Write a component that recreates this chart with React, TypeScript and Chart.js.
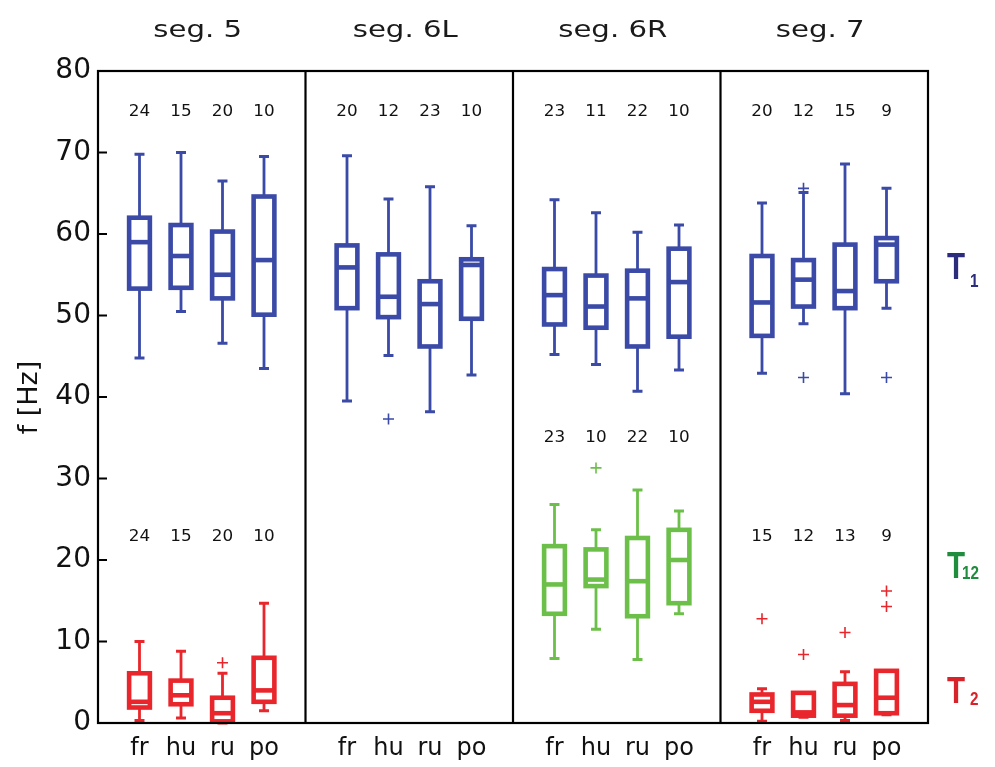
import { useEffect, useRef } from 'react';
import { Chart, registerables } from 'chart.js';

Chart.register(...registerables);

const categories = ['fr', 'hu', 'ru', 'po'];
const segments = ['seg. 5', 'seg. 6L', 'seg. 6R', 'seg. 7'];

// each box: [lower whisker, Q1, median, Q3, upper whisker]
const t1Seg5 = [
  [44.8, 53.3, 59.0, 62.0, 69.8],
  [50.5, 53.4, 57.3, 61.1, 70.0],
  [46.6, 52.1, 55.0, 60.3, 66.5],
  [43.5, 50.1, 56.8, 64.6, 69.5],
];
const t1Seg6L = [
  [39.5, 50.9, 55.9, 58.6, 69.6],
  [45.1, 49.8, 52.3, 57.5, 64.3],
  [38.2, 46.2, 51.4, 54.2, 65.8],
  [42.7, 49.6, 56.2, 56.9, 61.0],
];
const t1Seg6R = [
  [45.2, 48.9, 52.5, 55.7, 64.2],
  [44.0, 48.5, 51.1, 54.9, 62.6],
  [40.7, 46.2, 52.1, 55.5, 60.2],
  [43.3, 47.4, 54.1, 58.2, 61.1],
];
const t1Seg7 = [
  [42.9, 47.5, 51.6, 57.3, 63.8],
  [49.0, 51.1, 54.4, 56.8, 65.1],
  [40.4, 50.9, 53.0, 58.7, 68.6],
  [50.9, 54.2, 58.7, 59.5, 65.6],
];
const t12Seg6R = [
  [7.9, 13.4, 17.0, 21.7, 26.8],
  [11.5, 16.8, 17.6, 21.3, 23.7],
  [7.8, 13.1, 17.4, 22.7, 28.6],
  [13.4, 14.7, 20.0, 23.7, 26.0],
];
const t2Seg5 = [
  [0.3, 1.9, 2.6, 6.1, 10.0],
  [0.6, 2.3, 3.4, 5.2, 8.8],
  [0.0, 0.2, 1.2, 3.1, 6.1],
  [1.5, 2.6, 4.0, 8.0, 14.7],
];
const t2Seg7 = [
  [0.2, 1.5, 2.6, 3.5, 4.2],
  [0.7, 0.9, 1.3, 3.7, 3.7],
  [0.3, 0.9, 2.2, 4.8, 6.3],
  [1.0, 1.2, 3.1, 6.4, 6.4],
];

const t1Counts = [[24, 15, 20, 10], [20, 12, 23, 10], [23, 11, 22, 10], [20, 12, 15, 9]];
const t12Counts = [null, null, [23, 10, 22, 10], null];
const t2Counts = [[24, 15, 20, 10], null, null, [15, 12, 13, 9]];

// outliers: [segment index, category index, value]
const t1Outliers = [[1, 1, 37.3], [3, 1, 65.6], [3, 1, 42.4], [3, 3, 42.4]];
const t12Outliers = [[2, 1, 31.3]];
const t2Outliers = [[0, 2, 7.4], [3, 0, 12.8], [3, 1, 8.4], [3, 2, 11.1], [3, 3, 16.2], [3, 3, 14.3]];

const yTicks = [0, 10, 20, 30, 40, 50, 60, 70, 80];

const BLUE = '#3a4aa6';
const GREEN = '#6cc04a';
const RED = '#e8262b';

const groups = [
  { boxes: [t1Seg5, t1Seg6L, t1Seg6R, t1Seg7], counts: t1Counts, color: BLUE, countAt: 75.0 },
  { boxes: [null, null, t12Seg6R, null], counts: t12Counts, color: GREEN, countAt: 34.9 },
  { boxes: [t2Seg5, null, null, t2Seg7], counts: t2Counts, color: RED, countAt: 22.8 },
];

const xPos = (seg: number, cat: number) => seg * 5 + cat + 1;
const catPositions: number[] = [];
segments.forEach((_, s) => categories.forEach((_, c) => catPositions.push(xPos(s, c))));

const toPoints = (list: number[][]) => list.map(([s, c, v]) => ({ x: xPos(s, c), y: v }));

function stretchText(ctx: any, text: string, x: number, y: number, font: string, sx: number, align: string, baseline: string, color: string) {
  ctx.save();
  ctx.translate(x, y);
  ctx.scale(sx, 1);
  ctx.font = font;
  ctx.textAlign = align;
  ctx.textBaseline = baseline;
  ctx.fillStyle = color;
  ctx.fillText(text, 0, 0);
  ctx.restore();
}

const boxPlugin = {
  id: 'boxPlugin',
  beforeDatasetsDraw(chart: any) {
    const { ctx, scales } = chart;
    const xs = scales.x;
    const ys = scales.y;
    const unit = xs.getPixelForValue(1) - xs.getPixelForValue(0);
    const half = unit * 0.25;
    const cap = unit * 0.12;
    groups.forEach((g) => {
      g.boxes.forEach((segBoxes: any, s: number) => {
        if (!segBoxes) return;
        segBoxes.forEach((b: number[], c: number) => {
          const [lo, q1, med, q3, hi] = b;
          const cx = xs.getPixelForValue(xPos(s, c));
          const pLo = ys.getPixelForValue(lo);
          const pQ1 = ys.getPixelForValue(q1);
          const pMed = ys.getPixelForValue(med);
          const pQ3 = ys.getPixelForValue(q3);
          const pHi = ys.getPixelForValue(hi);
          ctx.save();
          ctx.strokeStyle = g.color;
          ctx.lineCap = 'butt';
          // whiskers
          ctx.lineWidth = 2.8;
          ctx.beginPath();
          ctx.moveTo(cx, pQ3);
          ctx.lineTo(cx, pHi);
          ctx.moveTo(cx, pQ1);
          ctx.lineTo(cx, pLo);
          ctx.stroke();
          ctx.lineWidth = 3;
          ctx.beginPath();
          ctx.moveTo(cx - cap, pHi);
          ctx.lineTo(cx + cap, pHi);
          ctx.moveTo(cx - cap, pLo);
          ctx.lineTo(cx + cap, pLo);
          ctx.stroke();
          // box
          ctx.fillStyle = '#ffffff';
          ctx.fillRect(cx - half, pQ3, half * 2, pQ1 - pQ3);
          ctx.lineWidth = 4.6;
          ctx.lineJoin = 'miter';
          ctx.strokeRect(cx - half, pQ3, half * 2, pQ1 - pQ3);
          ctx.beginPath();
          ctx.moveTo(cx - half, pMed);
          ctx.lineTo(cx + half, pMed);
          ctx.stroke();
          ctx.restore();
        });
      });
    });
  },
  afterDatasetsDraw(chart: any) {
    const { ctx, scales, chartArea } = chart;
    const xs = scales.x;
    const ys = scales.y;
    ctx.save();
    // frame and panel dividers
    ctx.strokeStyle = '#000';
    ctx.lineWidth = 2.2;
    ctx.strokeRect(chartArea.left, chartArea.top, chartArea.right - chartArea.left, chartArea.bottom - chartArea.top);
    ctx.beginPath();
    [5, 10, 15].forEach((v) => {
      const px = xs.getPixelForValue(v);
      ctx.moveTo(px, chartArea.top);
      ctx.lineTo(px, chartArea.bottom);
    });
    // inward ticks on left axis
    yTicks.forEach((v) => {
      const py = ys.getPixelForValue(v);
      ctx.moveTo(chartArea.left, py);
      ctx.lineTo(chartArea.left + 9, py);
    });
    ctx.stroke();

    // counts
    groups.forEach((g) => {
      g.counts.forEach((row: any, s: number) => {
        if (!row) return;
        row.forEach((n: number, c: number) => {
          stretchText(ctx, String(n), xs.getPixelForValue(xPos(s, c)), ys.getPixelForValue(g.countAt), '15px "DejaVu Sans"', 1.12, 'center', 'middle', '#111');
        });
      });
    });

    // segment titles
    segments.forEach((name, s) => {
      const px = xs.getPixelForValue(s * 5 + 2.5) - 4;
      stretchText(ctx, name, px, 37, '23px "DejaVu Sans"', 1.27, 'center', 'alphabetic', '#1a1a1a');
    });

    // y title
    ctx.save();
    ctx.translate(37, 397.5);
    ctx.rotate(-Math.PI / 2);
    ctx.font = '27px "DejaVu Sans"';
    ctx.textAlign = 'center';
    ctx.textBaseline = 'alphabetic';
    ctx.fillStyle = '#111';
    ctx.fillText('f [Hz]', 0, 0);
    ctx.restore();

    // right-side labels
    const tFont = 'bold 36px "Liberation Sans"';
    const subFont = 'bold 18px "Liberation Sans"';
    stretchText(ctx, 'T', 947, 279, tFont, 0.82, 'left', 'alphabetic', '#2b2d7c');
    stretchText(ctx, '1', 970, 287, subFont, 0.85, 'left', 'alphabetic', '#2b2d7c');
    stretchText(ctx, 'T', 947, 578, tFont, 0.82, 'left', 'alphabetic', '#1f8c3e');
    stretchText(ctx, '12', 962, 579, subFont, 0.85, 'left', 'alphabetic', '#1f8c3e');
    stretchText(ctx, 'T', 947, 703, tFont, 0.82, 'left', 'alphabetic', '#d8232a');
    stretchText(ctx, '2', 970, 705, subFont, 0.85, 'left', 'alphabetic', '#d8232a');
    ctx.restore();
  },
};

export default function App() {
  const canvasRef = useRef<HTMLCanvasElement | null>(null);

  useEffect(() => {
    const canvas = canvasRef.current;
    if (!canvas) return;
    const outlierStyle = (color: string) => ({
      pointStyle: 'cross',
      pointRadius: 5.5,
      pointBorderWidth: 1.6,
      borderColor: color,
      backgroundColor: color,
      pointBorderColor: color,
      showLine: false,
    });
    const chart = new Chart(canvas, {
      type: 'scatter',
      data: {
        datasets: [
          { label: 'T1 outliers', data: toPoints(t1Outliers), ...outlierStyle(BLUE) } as any,
          { label: 'T12 outliers', data: toPoints(t12Outliers), ...outlierStyle(GREEN) } as any,
          { label: 'T2 outliers', data: toPoints(t2Outliers), ...outlierStyle(RED) } as any,
        ],
      },
      options: {
        responsive: true,
        maintainAspectRatio: false,
        animation: false,
        layout: { padding: { left: 0, right: 67, top: 71, bottom: 0 } },
        plugins: {
          legend: { display: false },
          tooltip: { enabled: false },
        },
        scales: {
          x: {
            type: 'linear',
            min: 0,
            max: 20,
            grid: { display: false, drawTicks: false },
            border: { display: false },
            afterBuildTicks: (scale: any) => {
              scale.ticks = catPositions.map((v) => ({ value: v }));
            },
            afterFit: (scale: any) => {
              scale.height = 44;
            },
            ticks: {
              autoSkip: false,
              maxRotation: 0,
              padding: 11,
              color: '#111',
              font: { family: '"DejaVu Sans"', size: 24 },
              callback: (value: any) => categories[(Math.round(value) % 5) - 1],
            },
          },
          y: {
            type: 'linear',
            min: 0,
            max: 80,
            grid: { display: false, drawTicks: false },
            border: { display: false },
            afterBuildTicks: (scale: any) => {
              scale.ticks = yTicks.map((v) => ({ value: v }));
            },
            afterFit: (scale: any) => {
              scale.width = 98;
            },
            ticks: {
              padding: 7,
              color: '#111',
              font: { family: '"DejaVu Sans"', size: 28 },
            },
          },
        },
      } as any,
      plugins: [boxPlugin],
    });
    return () => chart.destroy();
  }, []);

  return (
    <div style={{ position: 'fixed', left: 0, top: 0, width: 995, height: 767, background: '#fff' }}>
      <canvas ref={canvasRef} />
    </div>
  );
}
